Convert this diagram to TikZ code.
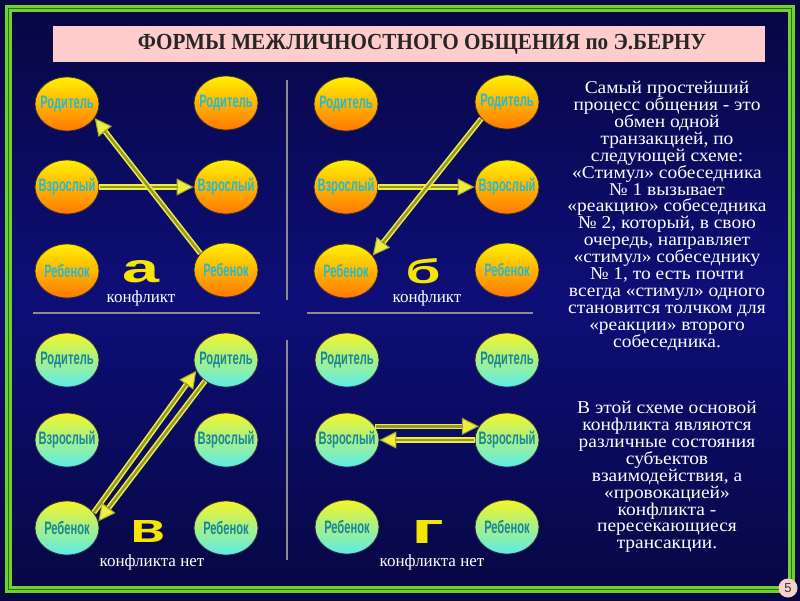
\documentclass[tikz,border=0pt]{standalone}
\usepackage{fontspec}
\setmainfont{Liberation Serif}
\newfontfamily\sansb{Liberation Sans}
\newfontfamily\narrowsans{Liberation Sans}[FakeStretch=0.62]
\newfontfamily\titlefont{Liberation Serif}[FakeStretch=0.92]
\newfontfamily\sidefont{Liberation Serif}[FakeStretch=1.08]
\usetikzlibrary{shapes.geometric,arrows.meta}
\newcommand\eg[1]{\makebox[0pt]{#1}}
\definecolor{bgblue}{RGB}{14,14,120}
\definecolor{bgdark}{RGB}{6,6,60}
\definecolor{framegreen}{RGB}{110,210,40}
\definecolor{framedark}{RGB}{40,110,20}
\definecolor{titlepink}{RGB}{255,204,204}
\definecolor{pagepink}{RGB}{248,208,208}
\definecolor{ytop}{RGB}{255,240,0}
\definecolor{ybot}{RGB}{255,120,0}
\definecolor{ctop}{RGB}{245,245,40}
\definecolor{cbot}{RGB}{90,235,235}
\definecolor{tealA}{RGB}{40,185,205}
\definecolor{tealB}{RGB}{20,135,155}
\definecolor{arrouter}{RGB}{238,238,60}
\definecolor{arrinner}{RGB}{150,150,50}
\definecolor{sepgray}{RGB}{140,140,140}
\definecolor{lettery}{RGB}{245,230,0}
\pgfdeclareverticalshading{bgshade}{100bp}{color(0bp)=(black); color(8bp)=(black); color(22bp)=(bgdark); color(50bp)=(bgblue); color(78bp)=(bgdark); color(92bp)=(black); color(100bp)=(black)}
\begin{document}
\begin{tikzpicture}[x=1pt,y=-1pt,
  ego/.style={ellipse, minimum width=64pt, minimum height=54pt, inner sep=0pt, draw=black!80, line width=0.8pt, font=\narrowsans\bfseries\fontsize{18}{18}\selectfont},
  warm/.style={ego, top color=ytop, bottom color=ybot, text=tealA},
  cool/.style={ego, top color=ctop, bottom color=cbot, text=tealB},
  arrbase/.style={line width=5.5pt, draw=arrouter, -{Triangle[length=17pt, width=17pt, line width=1pt, fill=arrouter, color=arrinner!80!arrouter]}},
  arrcore/.style={line width=2.4pt, draw=arrinner, shorten >=16pt, shorten <=0.5pt},
  sep/.style={draw=sepgray, line width=2pt},
  lbl/.style={text=white, font=\fontsize{17}{17}\selectfont},
  bigletter/.style={text=lettery, font=\sansb\bfseries},
  side/.style={text=white, align=center, font=\sidefont\fontsize{18}{16.9}\selectfont, execute at begin node={\lineskiplimit=-30pt\lineskip=0pt}}
]
\useasboundingbox (0,0) rectangle (800,600);
\shade[shading=bgshade] (0,0) rectangle (800,600);
% frame
\draw[framegreen, line width=7pt] (8.5,8.5) rectangle (791.5,589.5);
\draw[framedark, line width=1.2pt] (8.5,8.5) rectangle (791.5,589.5);
% title
\fill[titlepink] (53,26) rectangle (765,62);
\node[text=black!85, font=\titlefont\bfseries\fontsize{23}{23}\selectfont] (title) at (422,44) {ФОРМЫ МЕЖЛИЧНОСТНОГО ОБЩЕНИЯ по Э.БЕРНУ};
% separators
\draw[sep] (287,80) -- (287,300);
\draw[sep] (33,313) -- (260,313);
\draw[sep] (307,313) -- (533,313);
\draw[sep] (287,340) -- (287,560);
% quadrant a
\node[warm] (aP1) at (67,104) {\eg{Родитель}};
\node[warm] (aV1) at (67,187) {\eg{Взрослый}};
\node[warm] (aR1) at (67,271) {\eg{Ребенок}};
\node[warm] (aP2) at (226,103) {\eg{Родитель}};
\node[warm] (aV2) at (226,187) {\eg{Взрослый}};
\node[warm] (aR2) at (226,270) {\eg{Ребенок}};
% quadrant b
\node[warm] (bP1) at (346,104) {\eg{Родитель}};
\node[warm] (bV1) at (346,187) {\eg{Взрослый}};
\node[warm] (bR1) at (346,271) {\eg{Ребенок}};
\node[warm] (bP2) at (507,102) {\eg{Родитель}};
\node[warm] (bV2) at (507,187) {\eg{Взрослый}};
\node[warm] (bR2) at (507,270) {\eg{Ребенок}};
% quadrant c
\node[cool] (cP1) at (67,360) {\eg{Родитель}};
\node[cool] (cV1) at (67,440) {\eg{Взрослый}};
\node[cool] (cR1) at (67,528) {\eg{Ребенок}};
\node[cool] (cP2) at (226,360) {\eg{Родитель}};
\node[cool] (cV2) at (226,440) {\eg{Взрослый}};
\node[cool] (cR2) at (226,528) {\eg{Ребенок}};
% quadrant d
\node[cool] (dP1) at (347,360) {\eg{Родитель}};
\node[cool] (dV1) at (347,440) {\eg{Взрослый}};
\node[cool] (dR1) at (347,527) {\eg{Ребенок}};
\node[cool] (dP2) at (507,360) {\eg{Родитель}};
\node[cool] (dV2) at (507,440) {\eg{Взрослый}};
\node[cool] (dR2) at (507,527) {\eg{Ребенок}};
% arrows a
\draw[arrbase] (aV1.east) -- (aV2.west);
\draw[arrcore] (aV1.east) -- (aV2.west);
\draw[arrbase] (aR2.147) -- (aP1.-27);
\draw[arrcore] (aR2.147) -- (aP1.-27);
% arrows b
\draw[arrbase] (bV1.east) -- (bV2.west);
\draw[arrcore] (bV1.east) -- (bV2.west);
\draw[arrbase] (bP2.213) -- (bR1.30);
\draw[arrcore] (bP2.213) -- (bR1.30);
% arrows c
\draw[arrbase] (cR1.30) -- (cP2.200);
\draw[arrcore] (cR1.30) -- (cP2.200);
\draw[arrbase] (cP2.225) -- (cR1.12);
\draw[arrcore] (cP2.225) -- (cR1.12);
% arrows d
\draw[arrbase] (dV1.26) -- (dV2.154);
\draw[arrcore] (dV1.26) -- (dV2.154);
\draw[arrbase] (dV2.west) -- (dV1.east);
\draw[arrcore] (dV2.west) -- (dV1.east);
% letters
\node[bigletter] (la) at (141,272) {\resizebox{37pt}{22pt}{а}};
\node[bigletter] (lb) at (423,271) {\resizebox{35pt}{25pt}{б}};
\node[bigletter] (lv) at (148,531) {\resizebox{35pt}{22pt}{в}};
\node[bigletter] (lg) at (428,532) {\resizebox{33pt}{23pt}{г}};
% labels
\node[lbl] (ka) at (141,298) {конфликт};
\node[lbl] (kb) at (427,298) {конфликт};
\node[lbl] (kc) at (152,562) {конфликта нет};
\node[lbl] (kd) at (432,562) {конфликта нет};
% side text
\node[side] (t1) at (667,216) {Самый простейший\\процесс общения - это\\обмен одной\\транзакцией, по\\следующей схеме:\\«Стимул» собеседника\\№ 1 вызывает\\«реакцию» собеседника\\№ 2, который, в свою\\очередь, направляет\\«стимул» собеседнику\\№ 1, то есть почти\\всегда «стимул» одного\\становится толчком для\\«реакции» второго\\собеседника.};
\node[side] (t2) at (667,477) {В этой схеме основой\\конфликта являются\\различные состояния\\субъектов\\взаимодействия, а\\«провокацией»\\конфликта -\\пересекающиеся\\трансакции.};
% page number
\node[circle, fill=pagepink, minimum size=19pt, inner sep=0pt, text=black!80, font=\sansb\fontsize{13}{13}\selectfont] (pg) at (788,588) {5};
\end{tikzpicture}
\end{document}
